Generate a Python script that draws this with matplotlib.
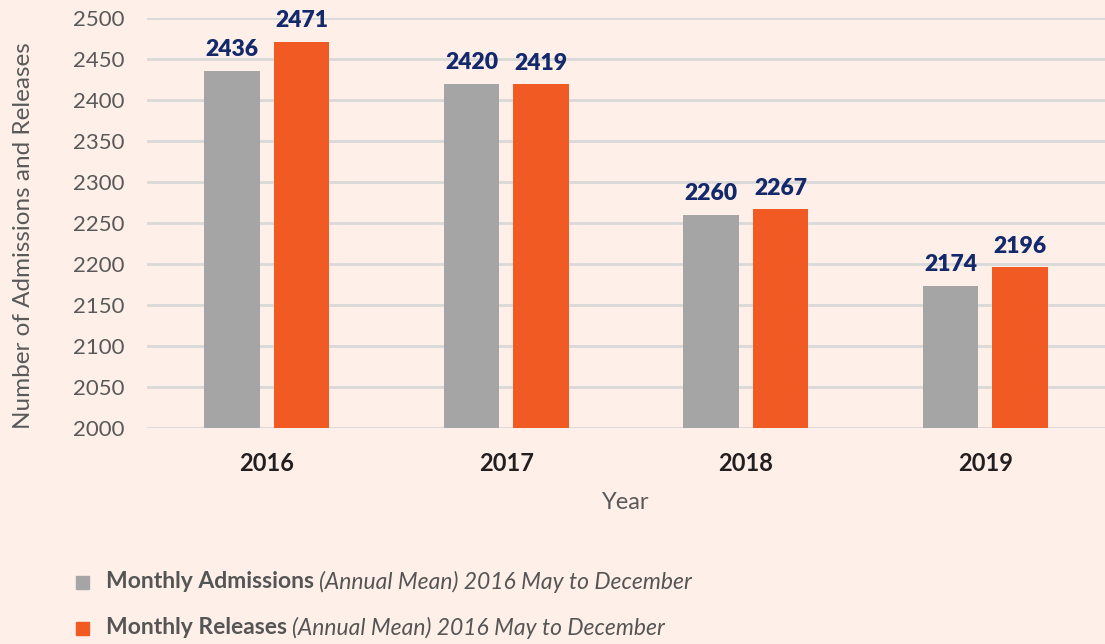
import matplotlib
matplotlib.use('Agg')
import matplotlib.pyplot as plt
import numpy as np

years = ["2016", "2017", "2018", "2019"]
admissions = [2436, 2420, 2260, 2174]
releases = [2471, 2419, 2267, 2196]

bg = "#FEF0E8"
gray = "#A5A5A5"
orange = "#F15A22"
navy = "#13296B"
txt = "#595959"

plt.rcParams['font.family'] = ['Lato', 'DejaVu Sans']

fig = plt.figure(figsize=(11.05, 6.44), dpi=100, facecolor=bg)
ax = fig.add_axes([0.133, 0.335, 0.867, 0.637], facecolor=bg)

x = np.arange(len(years))
w = 0.23
off = 0.145
b1 = ax.bar(x - off, admissions, w, color=gray, zorder=3)
b2 = ax.bar(x + off, releases, w, color=orange, zorder=3)

for bars, vals in [(b1, admissions), (b2, releases)]:
    for r, v in zip(bars, vals):
        ax.text(r.get_x() + r.get_width() / 2, v + 13, str(v), ha='center', va='bottom',
                fontsize=16.5, fontweight='heavy', color=navy)

ax.set_xlim(-0.5, 3.5)
ax.set_ylim(2000, 2500)
ax.set_yticks(np.arange(2000, 2501, 50))
ax.set_xticks(x)
ax.set_xticklabels(years, fontsize=17, fontweight='bold', color="#231F20")
ax.tick_params(axis='y', labelsize=16, labelcolor=txt, length=0, pad=16)
ax.tick_params(axis='x', length=0, pad=17)
ax.grid(axis='y', color="#D9D9D9", linewidth=2, zorder=0)
for s in ax.spines.values():
    s.set_visible(False)

ax.set_xlabel("Year", fontsize=17, color=txt, labelpad=12)
ax.set_ylabel("Number of Admissions and Releases", fontsize=17.5, color=txt)
ax.yaxis.set_label_coords(-113 / 958, 0.47)

# legend drawn by hand: bold name then italic note
fig.canvas.draw()
r = fig.canvas.get_renderer()
for i, (name, col) in enumerate([("Monthly Admissions", gray), ("Monthly Releases", orange)]):
    yy = 1 - (582 + i * 46) / 644
    fig.patches.append(plt.Rectangle((76 / 1105, yy - 6.5 / 644), 13 / 1105, 13 / 644,
                                     transform=fig.transFigure, color=col, figure=fig))
    t = fig.text(106 / 1105, yy, name, fontsize=16.5, fontweight='bold', color="#555555", va='center')
    bb = t.get_window_extent(renderer=r)
    fig.text(bb.x1 / 1105 + 5 / 1105, yy, "(Annual Mean) 2016 May to December", fontsize=16.5,
             style='italic', color="#555555", va='center')

fig.savefig("out.png", dpi=100, facecolor=bg)
